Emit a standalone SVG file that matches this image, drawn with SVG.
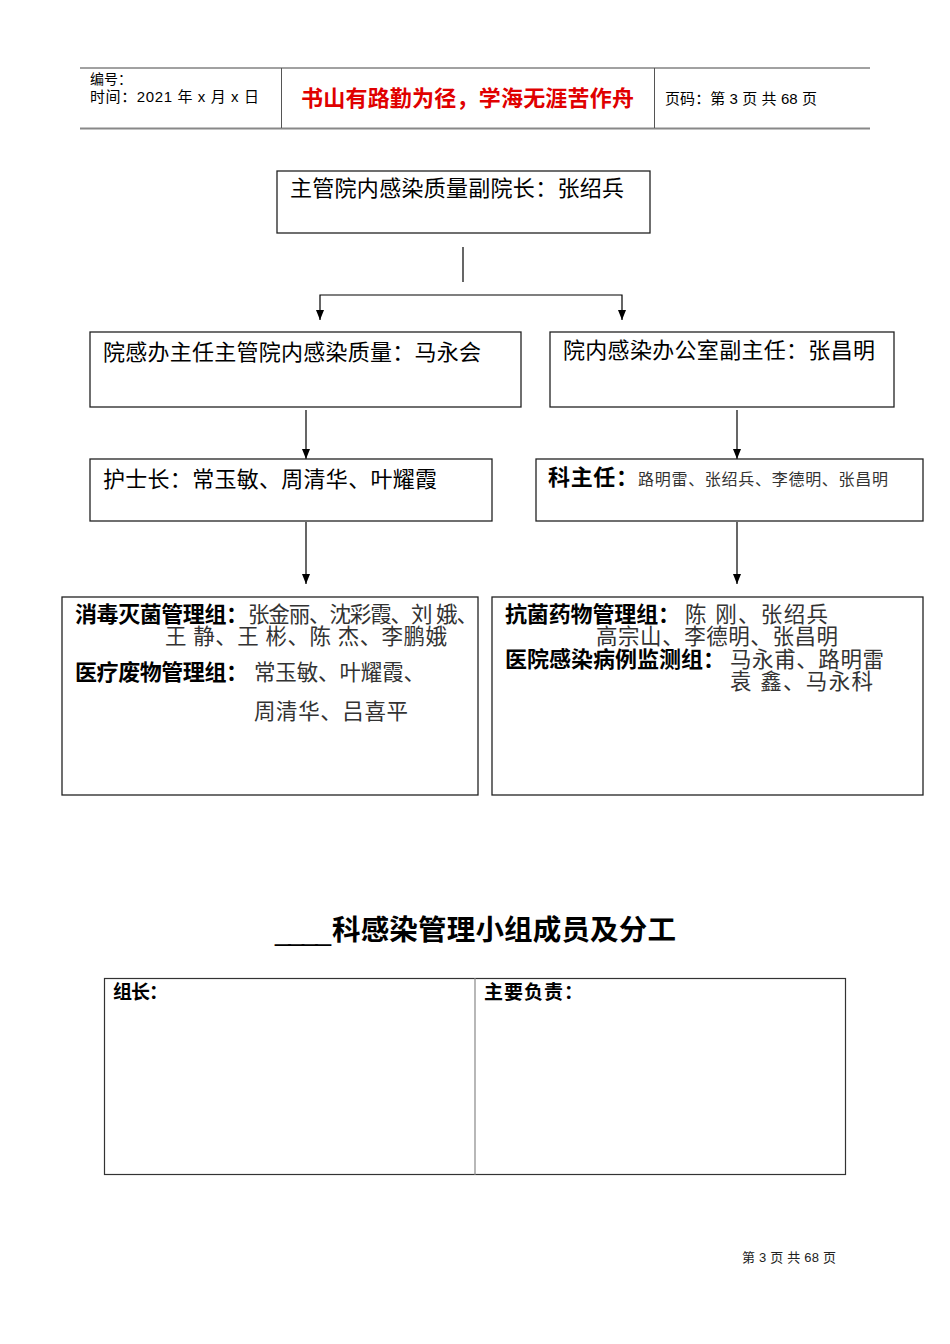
<svg xmlns="http://www.w3.org/2000/svg" width="950" height="1344" viewBox="0 0 950 1344">
<style>
text{font-family:"Liberation Sans","Noto Sans CJK SC",sans-serif;fill:#000}
.box{fill:#fff;stroke:#222;stroke-width:1.3}
.t22{font-size:22px}
.b{font-weight:bold}
.nm{font-size:21.5px;fill:#333}
.ln{stroke:#000;stroke-width:1.2;fill:none}
</style>
<defs>
<marker id="ah" viewBox="0 0 10 8" refX="10" refY="4" markerWidth="10" markerHeight="8" markerUnits="userSpaceOnUse" orient="auto-start-reverse">
<path d="M0,0 L10,4 L0,8 Z" fill="#000"/>
</marker>
</defs>
<rect width="950" height="1344" fill="#fff"/>
<g id="header">
<line x1="80" y1="68" x2="870" y2="68" stroke="#444" stroke-width="1"/>
<line x1="80" y1="128.5" x2="870" y2="128.5" stroke="#888" stroke-width="2"/>
<line x1="281.5" y1="68" x2="281.5" y2="128" stroke="#555" stroke-width="1"/>
<line x1="654.5" y1="68" x2="654.5" y2="128" stroke="#555" stroke-width="1"/>
<text x="90" y="84" style="font-size:14px">编号：</text>
<text x="90" y="102" style="font-size:15px" textLength="169">时间：2021 年 x 月 x 日</text>
<text x="301" y="106" class="b" style="font-size:22px;fill:#e00000" textLength="333">书山有路勤为径，学海无涯苦作舟</text>
<text x="665" y="104" style="font-size:15px" textLength="152">页码：第 3 页 共 68 页</text>
</g>
<g id="connectors">
<line class="ln" x1="463" y1="247" x2="463" y2="282"/>
<polyline class="ln" points="320,320 320,295 622,295 622,320" marker-start="url(#ah)" marker-end="url(#ah)"/>
<line class="ln" x1="306" y1="410" x2="306" y2="459" marker-end="url(#ah)"/>
<line class="ln" x1="737" y1="410" x2="737" y2="459" marker-end="url(#ah)"/>
<line class="ln" x1="306" y1="522" x2="306" y2="584" marker-end="url(#ah)"/>
<line class="ln" x1="737" y1="522" x2="737" y2="584" marker-end="url(#ah)"/>
</g>
<g id="n1">
<rect class="box" x="277" y="171" width="373" height="62"/>
<text x="290" y="196" class="t22" textLength="334">主管院内感染质量副院长：张绍兵</text>
</g>
<g id="n2">
<rect class="box" x="90" y="332" width="431" height="75"/>
<text x="103" y="360" class="t22" textLength="378">院感办主任主管院内感染质量：马永会</text>
</g>
<g id="n3">
<rect class="box" x="550" y="332" width="344" height="75"/>
<text x="563" y="358" class="t22" textLength="312">院内感染办公室副主任：张昌明</text>
</g>
<g id="n4">
<rect class="box" x="90" y="459" width="402" height="62"/>
<text x="103" y="487" class="t22" textLength="334">护士长：常玉敏、周清华、叶耀霞</text>
</g>
<g id="n5">
<rect class="box" x="536" y="459" width="387" height="62"/>
<text x="548" y="485" class="t22 b" textLength="90">科主任：</text>
<text x="638" y="485" style="font-size:16px;fill:#333" textLength="250">路明雷、张绍兵、李德明、张昌明</text>
</g>
<g id="n6">
<rect class="box" x="62" y="597" width="416" height="198"/>
<text x="75" y="622" class="t22 b" textLength="173">消毒灭菌管理组：</text>
<text x="248" y="622" class="nm" textLength="230">张金丽、沈彩霞、刘 娥、</text>
<text x="165" y="644" class="nm" textLength="282">王 静、王 彬、陈 杰、李鹏娥</text>
<text x="75" y="680" class="t22 b" textLength="173">医疗废物管理组：</text>
<text x="254" y="680" class="nm" textLength="171">常玉敏、叶耀霞、</text>
<text x="254" y="719" class="nm" textLength="154">周清华、吕喜平</text>
</g>
<g id="n7">
<rect class="box" x="492" y="597" width="431" height="198"/>
<text x="505" y="622" class="t22 b" textLength="175">抗菌药物管理组：</text>
<text x="685" y="622" class="nm" textLength="143">陈  刚、张绍兵</text>
<text x="596" y="644" class="nm" textLength="242">高宗山、李德明、张昌明</text>
<text x="505" y="667" class="t22 b" textLength="220">医院感染病例监测组：</text>
<text x="730" y="667" class="nm" textLength="154">马永甫、路明雷</text>
<text x="730" y="689" class="nm" textLength="143">袁  鑫、马永科</text>
</g>
<g id="title">
<text x="275" y="940" style="font-size:28px" textLength="56">____</text>
<text x="332" y="940" class="b" style="font-size:28.5px" textLength="344">科感染管理小组成员及分工</text>
</g>
<g id="table">
<rect x="104.5" y="978.5" width="741" height="196" fill="none" stroke="#333" stroke-width="1.2"/>
<line x1="475" y1="978" x2="475" y2="1175" stroke="#888" stroke-width="1.2"/>
<text x="113" y="999" class="b" style="font-size:19px" textLength="55">组长：</text>
<text x="484" y="999" class="b" style="font-size:19px" textLength="99">主要负责：</text>
</g>
<g id="footer">
<text x="742" y="1262" style="font-size:13px;fill:#222" textLength="94">第 3 页 共 68 页</text>
</g>
</svg>
